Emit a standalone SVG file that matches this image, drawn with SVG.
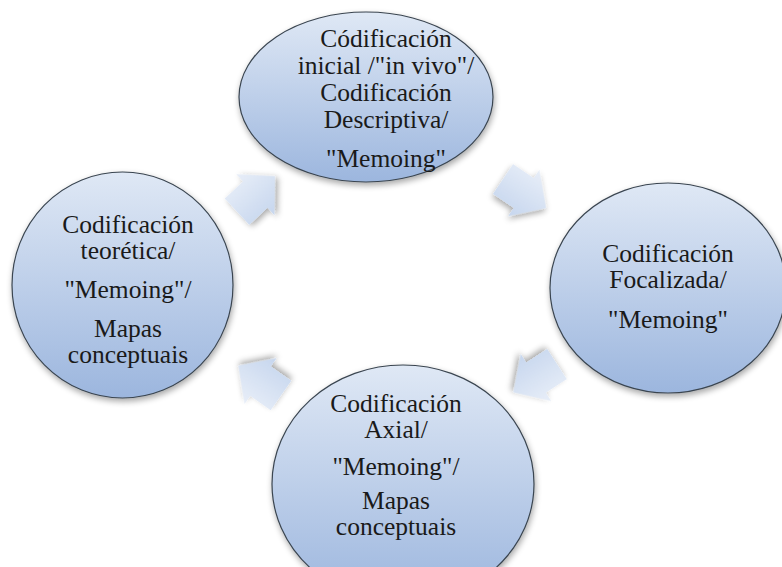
<svg xmlns="http://www.w3.org/2000/svg" width="782" height="567" viewBox="0 0 782 567">
  <defs>
    <linearGradient id="nodeFill" x1="0" y1="0" x2="0" y2="1">
      <stop offset="0" stop-color="#dfe8f5"/>
      <stop offset="1" stop-color="#9cb6de"/>
    </linearGradient>
    <linearGradient id="arrowFill" x1="0" y1="0" x2="0" y2="1">
      <stop offset="0" stop-color="#e8eef8"/>
      <stop offset="1" stop-color="#c6d6ee"/>
    </linearGradient>
    <filter id="shadow" x="-20%" y="-20%" width="140%" height="140%">
      <feGaussianBlur in="SourceAlpha" stdDeviation="3"/>
      <feOffset dx="1" dy="3"/>
      <feComponentTransfer><feFuncA type="linear" slope="0.35"/></feComponentTransfer>
      <feMerge><feMergeNode/><feMergeNode in="SourceGraphic"/></feMerge>
    </filter>
    <polygon id="arrowShape" points="0,-18 25,-18 25,-28 52,0 25,28 25,18 0,18" fill="url(#arrowFill)" filter="url(#shadow)"/>
  </defs>
  <rect width="782" height="567" fill="#ffffff"/>

  <g id="connectors">
    <use href="#arrowShape" transform="translate(237,211.7) rotate(-43)"/>
    <use href="#arrowShape" transform="translate(503,179) rotate(34)"/>
    <use href="#arrowShape" transform="translate(557,364) rotate(147)"/>
    <use href="#arrowShape" transform="translate(281,395.5) rotate(-145)"/>
  </g>

  <g fill="url(#nodeFill)" stroke="#3a4550" stroke-width="1.2" filter="url(#shadow)">
    <ellipse id="shape-top" cx="366" cy="97" rx="127" ry="85"/>
    <ellipse id="shape-right" cx="668" cy="288" rx="118" ry="105"/>
    <ellipse id="shape-bottom" cx="403" cy="484" rx="131" ry="119"/>
    <ellipse id="shape-left" cx="122.5" cy="285" rx="110.5" ry="113"/>
  </g>

  <g font-family="Liberation Serif, Times New Roman, serif" font-size="25.5" fill="#1a1a1a" text-anchor="middle">
    <g id="node-top">
      <text x="386" y="47">C&#243;dificaci&#243;n</text>
      <text x="386" y="74">inicial /&quot;in vivo&quot;/</text>
      <text x="386" y="101">Codificaci&#243;n</text>
      <text x="386" y="128">Descriptiva/</text>
      <text x="386" y="167">&quot;Memoing&quot;</text>
    </g>
    <g id="node-right">
      <text x="668" y="262">Codificaci&#243;n</text>
      <text x="668" y="288">Focalizada/</text>
      <text x="668" y="328">&quot;Memoing&quot;</text>
    </g>
    <g id="node-bottom">
      <text x="396" y="412">Codificaci&#243;n</text>
      <text x="396" y="438">Axial/</text>
      <text x="396" y="475">&quot;Memoing&quot;/</text>
      <text x="396" y="509">Mapas</text>
      <text x="396" y="535">conceptuais</text>
    </g>
    <g id="node-left">
      <text x="128" y="233">Codificaci&#243;n</text>
      <text x="128" y="259">teor&#233;tica/</text>
      <text x="128" y="298">&quot;Memoing&quot;/</text>
      <text x="128" y="337">Mapas</text>
      <text x="128" y="363">conceptuais</text>
    </g>
  </g>
</svg>
